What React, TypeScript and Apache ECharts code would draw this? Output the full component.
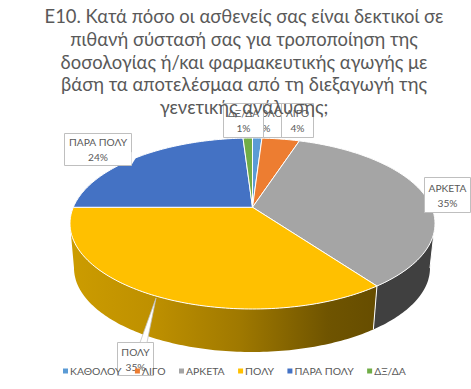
import React, { useEffect, useRef } from "react";
import * as echarts from "echarts";

const categories = ["ΚΑΘΟΛΟΥ", "ΛΙΓΟ", "ΑΡΚΕΤΑ", "ΠΟΛΥ", "ΠΑΡΑ ΠΟΛΥ", "ΔΞ/ΔΑ"];
const values = [1, 4, 35, 35, 24, 1];
const colors = ["#5B9BD5", "#ED7D31", "#A5A5A5", "#FFC000", "#4472C4", "#70AD47"];
const titleLines = [
  "Ε10. Κατά πόσο οι ασθενείς σας είναι δεκτικοί σε",
  "πιθανή σύστασή σας για τροποποίηση της",
  "δοσολογίας ή/και φαρμακευτικής αγωγής με",
  "βάση τα αποτελέσμαα από τη διεξαγωγή της",
  "γενετικής ανάλυσης;",
];

const FONT = 'Lato, "Open Sans", sans-serif';
const TEXT = "#595959";
const BORDER = "#BFBFBF";

// Perspective pie geometry: top rim, bottom rim, and the projected pie centre (in rim units).
const TOP = { cx: 252.5, cy: 223.5, rx: 182.5, ry: 85.5 };
const BOT = { cx: 252, cy: 268, rx: 178, ry: 84 };
const APEX_Y = -0.19;

// Label boxes, in data order: [left, top, width, height]
const boxes: number[][] = [
  [235, 103, 56, 34],
  [281, 103, 32, 34],
  [424, 177, 46, 35],
  [117, 342, 36, 33],
  [64, 133, 67, 32],
  [223, 103, 40, 34],
];
const total = values.reduce((a, b) => a + b, 0);

function project(theta: number): number[] {
  const ux = Math.sin(theta);
  const uy = -Math.cos(theta);
  const den = 1 + APEX_Y * uy;
  return [(ux * Math.sqrt(1 - APEX_Y * APEX_Y)) / den, (APEX_Y + uy) / den];
}

const wallFills: Record<number, any> = {
  2: "#404040",
  3: new echarts.graphic.LinearGradient(0, 0, 1, 0, [
    { offset: 0, color: "#CC9C00" },
    { offset: 0.27, color: "#BE9000" },
    { offset: 0.55, color: "#A07900" },
    { offset: 0.84, color: "#6F5400" },
    { offset: 1, color: "#664D00" },
  ]),
};

function renderSlice(params: any, api: any) {
  const i = params.seriesIndex;
  const before = values.slice(0, i).reduce((a, b) => a + b, 0);
  const a0 = (before / total) * Math.PI * 2;
  const a1 = ((before + api.value(0)) / total) * Math.PI * 2;
  const steps = Math.max(4, Math.ceil(((a1 - a0) * 180) / Math.PI));
  const rim: number[][] = [];
  for (let s = 0; s <= steps; s++) rim.push(project(a0 + ((a1 - a0) * s) / steps));

  const toTop = (p: number[]) => [TOP.cx + TOP.rx * p[0], TOP.cy + TOP.ry * p[1]];
  const toBot = (p: number[]) => [BOT.cx + BOT.rx * p[0], BOT.cy + BOT.ry * p[1]];
  const children: any[] = [];

  const front = rim.filter((p) => p[1] >= 0);
  if (front.length > 1) {
    const outline = front.map(toTop).concat(front.slice().reverse().map(toBot));
    children.push({
      type: "polygon",
      z2: 1,
      shape: { points: outline },
      style: { fill: wallFills[i] ?? colors[i], stroke: "none" },
    });
    const edge = front[0];
    children.push({
      type: "line",
      z2: 2,
      shape: { x1: toTop(edge)[0], y1: toTop(edge)[1], x2: toBot(edge)[0], y2: toBot(edge)[1] },
      style: { stroke: "#FFFFFF", lineWidth: 1 },
    });
  }

  const apex = [TOP.cx, TOP.cy + TOP.ry * APEX_Y];
  children.push({
    type: "polygon",
    z2: 10,
    shape: { points: [apex].concat(rim.map(toTop)) },
    style: { fill: colors[i], stroke: "#FFFFFF", lineWidth: 1, lineJoin: "round" },
  });

  const [bx, by, bw, bh] = boxes[i];
  const z = 100 + i * 3;
  children.push({
    type: "rect",
    z2: z,
    shape: { x: bx + 0.5, y: by + 0.5, width: bw, height: bh },
    style: { fill: "#FFFFFF", stroke: BORDER, lineWidth: 1 },
  });
  if (i === 3) {
    children.push({
      type: "polygon",
      z2: z + 1,
      shape: { points: [[140, 342.5], [156, 298], [147, 342.5]] },
      style: { fill: "#FFFFFF", stroke: BORDER, lineWidth: 0.75 },
    });
  }
  if (i === 4) {
    children.push({
      type: "polygon",
      z2: z + 1,
      shape: { points: [[131.5, 152], [137, 156], [131.5, 165]] },
      style: { fill: "#FFFFFF", stroke: "none" },
    });
  }
  const midX = bx + bw / 2 + 0.5;
  children.push({
    type: "text",
    z2: z + 2,
    style: {
      text: categories[i] + "\n" + api.value(0) + "%",
      x: midX,
      y: by + bh / 2 + 0.5,
      align: "center",
      verticalAlign: "middle",
      fill: TEXT,
      fontFamily: FONT,
      fontSize: 10.2,
      lineHeight: 15,
    },
  });
  return { type: "group", children };
}

export default function App() {
  const ref = useRef<HTMLDivElement>(null);
  useEffect(() => {
    const chart = echarts.init(ref.current!, undefined, { renderer: "svg" });
    chart.setOption({
      animation: false,
      backgroundColor: "#FFFFFF",
      color: colors,
      title: {
        text: titleLines.join("\n"),
        left: 239,
        top: 0,
        textAlign: "center",
        textStyle: {
          color: TEXT,
          fontFamily: FONT,
          fontSize: 18.4,
          fontWeight: "normal",
          lineHeight: 22.7,
        },
      },
      legend: {
        data: categories,
        left: 63,
        top: 366,
        icon: "rect",
        itemWidth: 5,
        itemHeight: 5,
        itemGap: 13.5,
        padding: 0,
        selectedMode: false,
        textStyle: { color: TEXT, fontFamily: FONT, fontSize: 10.4, padding: [0, 0, 0, -3] },
      },
      series: categories.map((name, i) => ({
        type: "custom",
        name,
        coordinateSystem: "none",
        silent: true,
        itemStyle: { color: colors[i] },
        data: [[values[i]]],
        renderItem: renderSlice,
      })),
    });
    return () => chart.dispose();
  }, []);
  return (
    <div
      ref={ref}
      style={{ position: "fixed", left: 0, top: 0, width: 471, height: 389 }}
    />
  );
}
